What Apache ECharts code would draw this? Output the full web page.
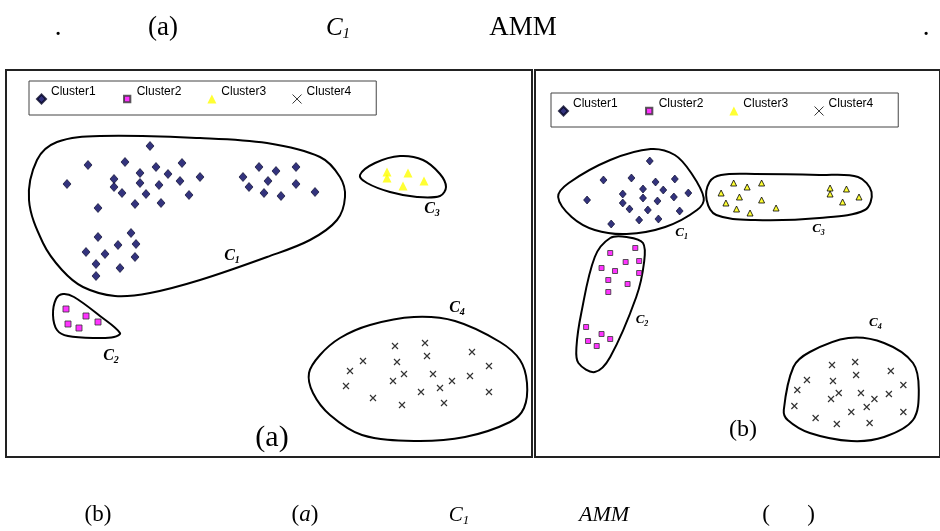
<!DOCTYPE html>
<html><head><meta charset="utf-8">
<script src="https://cdn.jsdelivr.net/npm/echarts@6/dist/echarts.min.js"></script>
<style>html,body{margin:0;padding:0;background:#fff}#c{width:940px;height:531px}</style>
</head><body><div id="c"></div><script>
// ---------- Panel (a) ----------
const a_cluster1 = [
  [150,146],[88,165],[125,162],[182,163],[156,167],[140,173],[168,174],[114,179],[200,177],[180,181],
  [67,184],[114,187],[140,183],[159,185],[122,193],[146,194],[189,195],[135,204],[161,203],[98,208],
  [259,167],[296,167],[276,171],[243,177],[268,181],[249,187],[296,184],[264,193],[281,196],[315,192],
  [131,233],[98,237],[136,244],[118,245],[86,252],[105,254],[135,257],[96,264],[120,268],[96,276]
];
const a_cluster2 = [[66,309],[86,316],[68,324],[79,328],[98,322]];
const a_cluster3 = [[387,172],[387,178],[408,173],[424,181],[403,186]];
const a_cluster4 = [
  [395,346],[425,343],[472,352],[363,361],[397,362],[427,356],[350,371],[489,366],[404,374],[393,381],
  [433,374],[452,381],[470,376],[346,386],[440,388],[421,392],[489,392],[373,398],[402,405],[444,403]
];
const a_outlines = [
  [[29,200],[37,160],[57,142],[100,136],[200,138],[267,143],[320,157],[340,177],[345,197],[337,220],[310,240],[267,257],[200,280],[150,293],[115,296],[83,287],[62,270],[43,243]],
  [[53,315],[56,299],[63,294],[74,297],[100,316],[120,333],[114,337],[98,338],[68,336],[57,330]],
  [[360,175],[375,163],[400,156],[423,160],[440,174],[446,187],[440,196],[417,197],[390,192],[367,183]],
  [[309,373],[320,355],[340,338],[370,325],[414,317],[455,321],[500,342],[520,360],[527,383],[524,408],[510,422],[465,437],[414,441],[362,435],[330,415],[313,393]]
];
const a_outlineLabels = [[232,256],[111,356],[432,209],[457,308]];

// ---------- Panel (b) ----------
const b_cluster1 = [
  [654,161],[606,180],[635,178],[680,179],[660,182],[647,189],[668,190],[589,200],[626,194],[626,203],
  [647,198],[662,201],[679,197],[694,193],[633,209],[652,210],[685,211],[643,220],[663,219],[614,224]
];
const b_cluster2 = [
  [613,253],[639,248],[629,262],[643,261],[604,268],[618,271],[643,273],[611,280],[631,284],[611,292],
  [588,327],[604,334],[613,339],[590,341],[599,346]
];
const b_cluster3 = [
  [741,183],[755,187],[770,183],[728,193],[747,197],[770,200],[733,203],[744,209],[758,213],[785,208],
  [841,188],[841,194],[858,189],[871,197],[854,202]
];
const b_cluster4 = [
  [843,365],[867,362],[904,371],[817,380],[844,381],[868,375],[807,390],[917,385],[850,393],[842,399],
  [873,393],[902,394],[887,399],[804,406],[879,407],[863,412],[917,412],[826,418],[848,424],[882,423]
];
const b_outlines = [
  [[559,197],[570,183],[613,160],[655,149],[680,155],[697,173],[710,198],[703,210],[670,227],[630,234],[597,230],[573,217]],
  [[630,237],[647,243],[648,263],[640,297],[613,357],[597,372],[580,363],[578,347],[583,313],[597,257],[613,238]],
  [[713,200],[716,182],[728,175],[763,174],[830,175],[870,177],[884,192],[877,210],[830,218],[763,220],[723,215]],
  [[793,410],[803,367],[820,352],[860,338],[897,343],[927,363],[933,390],[927,420],[897,437],[863,441],[820,433],[797,420]]
];
const b_outlineLabels = [[687,233],[646,320],[829,229],[888,323]];

const clusterNames = ['Cluster1','Cluster2','Cluster3','Cluster4'];
const panelLabels = ['(a)','(b)'];

// ---------- styles ----------
const CROSS = 'path://M0,0L10,10M10,0L0,10';
const SQUARE_ICON = 'path://M0,0M10,10M1.5,1.5L8.5,1.5L8.5,8.5L1.5,8.5Z';
const serif = 'Liberation Serif';
const NAVY = '#00005c';

function scatter(name, data, idx, symbol, size, itemStyle) {
  return {
    type: 'scatter', name, data, xAxisIndex: idx, yAxisIndex: idx,
    symbol, symbolSize: size, itemStyle, z: 3,
    emphasis: {disabled: true}, silent: true
  };
}
function outlineSeries(outlines, labels, idx, fs) {
  return {
    type: 'custom', name: 'outline' + idx, xAxisIndex: idx, yAxisIndex: idx, z: 2, silent: true,
    data: labels.map((p, i) => [p[0], p[1], i]),
    renderItem: function (params, api) {
      const i = api.value(2);
      const pts = outlines[i].map(p => api.coord(p));
      const lp = api.coord([api.value(0), api.value(1)]);
      return {type: 'group', children: [
        {type: 'polygon', shape: {points: pts, smooth: 0.35},
         style: {fill: 'none', stroke: '#000', lineWidth: 2}},
        {type: 'text', x: lp[0], y: lp[1],
         style: {text: '{c|C}{s|' + (i + 1) + '}', align: 'center', verticalAlign: 'middle',
           rich: {
             c: {fontFamily: serif, fontStyle: 'italic', fontWeight: 'bold', fontSize: fs, lineHeight: fs * 1.2, fill: '#000'},
             s: {fontFamily: serif, fontStyle: 'italic', fontWeight: 'bold', fontSize: Math.round(fs * 0.62), verticalAlign: 'bottom', fill: '#000'}
           }}}
      ]};
    }
  };
}
function legend(left, top) {
  return {
    left, top, orient: 'horizontal', padding: [5, 25, 3, 7],
    borderColor: '#444', borderWidth: 1, itemWidth: 9, itemHeight: 9, itemGap: 26,
    selectedMode: false,
    formatter: '{t|{name}}',
    textStyle: {fontFamily: 'Liberation Sans', fontSize: 12, color: '#000',
      rich: {t: {fontFamily: 'Liberation Sans', fontSize: 12, color: '#000', lineHeight: 14, padding: [0, 0, 14, 0]}}},
    data: [
      {name: clusterNames[0], icon: 'diamond'},
      {name: clusterNames[1], icon: SQUARE_ICON},
      {name: clusterNames[2], icon: 'triangle'},
      {name: clusterNames[3], icon: CROSS, itemStyle: {color: 'transparent', borderColor: '#000', borderWidth: 1}}
    ]
  };
}
const gridStyle = {show: true, borderColor: '#222', borderWidth: 2, backgroundColor: 'transparent', containLabel: false};

function txt(x, y, text, size, extra) {
  return {type: 'text', x, y, silent: true,
    style: Object.assign({text, fontFamily: serif, fontSize: size, fill: '#000', align: 'center', verticalAlign: 'middle'}, extra || {})};
}

const option = {
  animation: false,
  grid: [
    Object.assign({left: 6, top: 70, width: 526, height: 387}, gridStyle),
    Object.assign({left: 535, top: 70, width: 420, height: 387}, gridStyle)
  ],
  xAxis: [
    {type: 'value', min: 6, max: 532, show: false, gridIndex: 0},
    {type: 'value', min: 535, max: 955, show: false, gridIndex: 1}
  ],
  yAxis: [
    {type: 'value', min: 70, max: 457, inverse: true, show: false, gridIndex: 0},
    {type: 'value', min: 70, max: 457, inverse: true, show: false, gridIndex: 1}
  ],
  legend: [legend(29, 81), legend(551, 93)],
  series: [
    outlineSeries(a_outlines, a_outlineLabels, 0, 16),
    scatter(clusterNames[0], a_cluster1, 0, 'diamond', [8, 9], {color: NAVY, borderColor: '#000022', borderWidth: 0.8}),
    scatter(clusterNames[1], a_cluster2, 0, 'rect', 6, {color: '#ff00ff', borderColor: '#333', borderWidth: 1}),
    scatter(clusterNames[2], a_cluster3, 0, 'triangle', 9, {color: '#ffff00', borderWidth: 0}),
    scatter(clusterNames[3], a_cluster4, 0, CROSS, 6, {color: 'transparent', borderColor: '#000', borderWidth: 1.2}),
    outlineSeries(b_outlines, b_outlineLabels, 1, 13),
    scatter(clusterNames[0], b_cluster1, 1, 'diamond', [7, 8], {color: NAVY, borderColor: '#000022', borderWidth: 0.8}),
    scatter(clusterNames[1], b_cluster2, 1, 'rect', 5, {color: '#ff00ff', borderColor: '#333', borderWidth: 1}),
    scatter(clusterNames[2], b_cluster3, 1, 'triangle', 6, {color: '#ffff00', borderColor: '#000', borderWidth: 1}),
    scatter(clusterNames[3], b_cluster4, 1, CROSS, 6, {color: 'transparent', borderColor: '#000', borderWidth: 1.2})
  ],
  graphic: [
    txt(58, 28, '.', 27),
    txt(163, 28, '(a)', 27),
    {type: 'text', x: 338, y: 28, silent: true, style: {text: '{c|C}{s|1}', align: 'center', verticalAlign: 'middle',
      rich: {c: {fontFamily: serif, fontStyle: 'italic', fontSize: 25, lineHeight: 28, fill: '#000'},
             s: {fontFamily: serif, fontStyle: 'italic', fontSize: 15, verticalAlign: 'bottom', fill: '#000'}}}},
    txt(523, 28, 'AMM', 27),
    txt(926, 28, '.', 27),
    txt(272, 438, panelLabels[0], 30),
    txt(743, 430, panelLabels[1], 24),
    txt(98, 515, '(b)', 23),
    {type: 'text', x: 305, y: 515, silent: true, style: {text: '({i|a})', align: 'center', verticalAlign: 'middle',
      fontFamily: serif, fontSize: 23, fill: '#000',
      rich: {i: {fontFamily: serif, fontStyle: 'italic', fontSize: 23, fill: '#000'}}}},
    {type: 'text', x: 459, y: 515, silent: true, style: {text: '{c|C}{s|1}', align: 'center', verticalAlign: 'middle',
      rich: {c: {fontFamily: serif, fontStyle: 'italic', fontSize: 21, lineHeight: 24, fill: '#000'},
             s: {fontFamily: serif, fontStyle: 'italic', fontSize: 13, verticalAlign: 'bottom', fill: '#000'}}}},
    txt(604, 515, 'AMM', 22, {fontStyle: 'italic'}),
    txt(766, 515, '(', 23),
    txt(811, 515, ')', 23)
  ]
};
const chart = echarts.init(document.getElementById('c'), null, {renderer: 'canvas'});
chart.setOption(option);
</script></body></html>
